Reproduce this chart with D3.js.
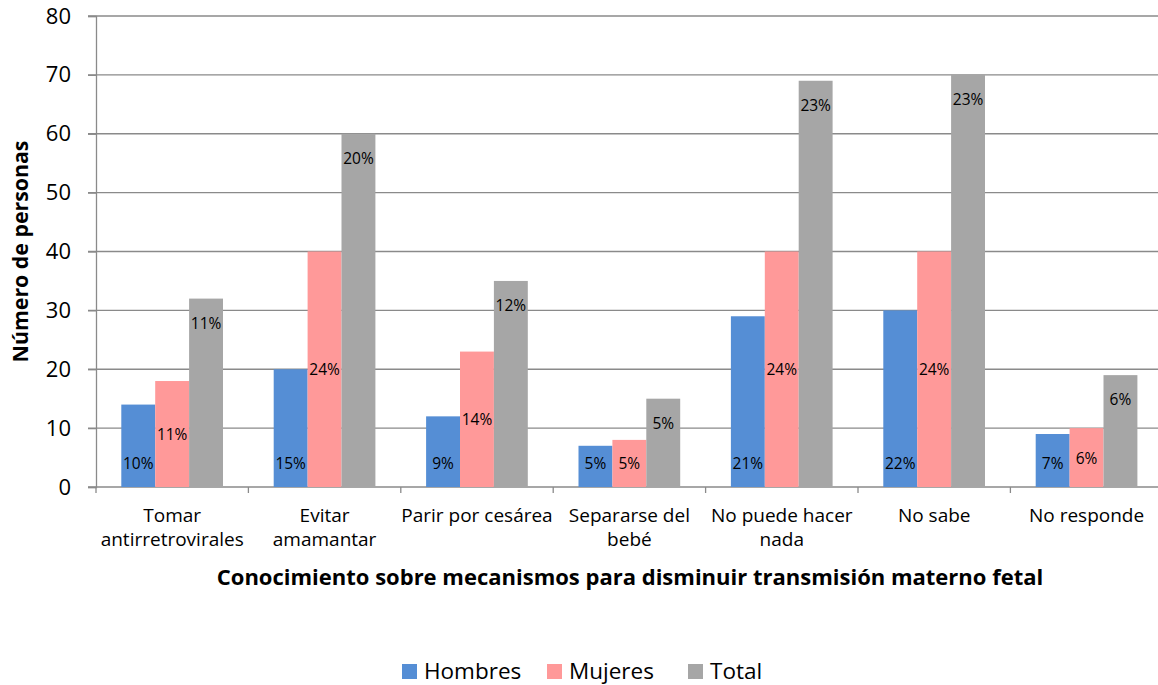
<!DOCTYPE html>
<html>
<head>
<meta charset="utf-8">
<script src="https://cdn.jsdelivr.net/npm/d3@7"></script>
<style>
  html, body { margin: 0; padding: 0; background: #fff; }
  svg { display: block; font-family: "Open Sans", sans-serif; }
</style>
</head>
<body>
<svg id="chart" width="1158" height="685"></svg>
<script>
const categories = [
  ["Tomar", "antirretrovirales"],
  ["Evitar", "amamantar"],
  ["Parir por cesárea"],
  ["Separarse del", "bebé"],
  ["No puede hacer", "nada"],
  ["No sabe"],
  ["No responde"]
];
const seriesNames = ["Hombres", "Mujeres", "Total"];
const hombres = [14, 20, 12, 7, 29, 30, 9];
const mujeres = [18, 40, 23, 8, 40, 40, 10];
const total   = [32, 60, 35, 15, 69, 70, 19];
const hombresPct = ["10%", "15%", "9%", "5%", "21%", "22%", "7%"];
const mujeresPct = ["11%", "24%", "14%", "5%", "24%", "24%", "6%"];
const totalPct   = ["11%", "20%", "12%", "5%", "23%", "23%", "6%"];
const yTicks = [0, 10, 20, 30, 40, 50, 60, 70, 80];
const colors = ["#558ED5", "#FF9999", "#A6A6A6"];

(function () {
const svg = d3.select("#chart");
const plotLeft = 96, catW = 152.4, plotTop = 16, plotBottom = 487;
const catKeys = categories.map((c, i) => i);

const x = d3.scaleBand().domain(catKeys).range([plotLeft, plotLeft + catW * categories.length]).padding(0);
const xs = d3.scaleBand().domain(seriesNames).range([25.3, 127]).padding(0);
const y = d3.scaleLinear().domain([0, 80]).range([plotBottom, plotTop]);

const gridColor = "#8a8a8a";

// gridlines
svg.append("g").selectAll("line").data(yTicks).join("line")
  .attr("x1", plotLeft - 8).attr("x2", 1158)
  .attr("y1", d => y(d)).attr("y2", d => y(d))
  .attr("stroke", gridColor).attr("stroke-width", 1.3);

// y axis
const yAxis = svg.append("g").attr("transform", `translate(${plotLeft},0)`)
  .call(d3.axisLeft(y).tickValues(yTicks).tickSize(8).tickPadding(17));
yAxis.select(".domain").attr("stroke", gridColor).attr("stroke-width", 1.3);
yAxis.selectAll(".tick line").attr("stroke", gridColor).attr("stroke-width", 1.3);
yAxis.selectAll(".tick text").attr("font-size", 22).attr("fill", "#000")
  .attr("font-family", "'Open Sans', sans-serif");

// x axis ticks at category boundaries
const tickPos = d3.range(categories.length + 1).map(i => plotLeft + i * catW);
svg.append("g").selectAll("line").data(tickPos).join("line")
  .attr("x1", d => d).attr("x2", d => d).attr("y1", plotBottom).attr("y2", plotBottom + 6)
  .attr("stroke", gridColor).attr("stroke-width", 1.3);

// bars
const series = [hombres, mujeres, total];
const pcts = [hombresPct, mujeresPct, totalPct];
const barData = [];
series.forEach((vals, s) => vals.forEach((v, i) => barData.push({s, i, v, label: pcts[s][i]})));

svg.append("g").selectAll("rect").data(barData).join("rect")
  .attr("x", d => x(d.i) + xs(seriesNames[d.s]))
  .attr("y", d => y(d.v))
  .attr("width", xs.bandwidth())
  .attr("height", d => y(0) - y(d.v))
  .attr("fill", d => colors[d.s]);

// data labels
svg.append("g").selectAll("text").data(barData).join("text")
  .attr("x", d => x(d.i) + xs(seriesNames[d.s]) + xs.bandwidth() / 2)
  .attr("y", d => d.s === 0 ? y(0) - 24 : d.s === 1 ? (y(0) + y(d.v)) / 2 : y(d.v) + 24)
  .attr("text-anchor", "middle")
  .attr("dominant-baseline", "central")
  .attr("font-size", 15.5)
  .attr("fill", "#000")
  .text(d => d.label);

// category labels
const catG = svg.append("g");
categories.forEach((lines, i) => {
  const t = catG.append("text")
    .attr("x", x(i) + catW / 2)
    .attr("y", 522)
    .attr("text-anchor", "middle")
    .attr("font-size", 19)
    .attr("fill", "#000");
  lines.forEach((ln, k) => {
    t.append("tspan").attr("x", x(i) + catW / 2).attr("dy", k === 0 ? 0 : 24).text(ln);
  });
});

// axis titles
svg.append("text")
  .attr("x", 630).attr("y", 585)
  .attr("text-anchor", "middle")
  .attr("font-size", 22).attr("font-weight", "bold").attr("fill", "#000")
  .text("Conocimiento sobre mecanismos para disminuir transmisión materno fetal");

svg.append("text")
  .attr("transform", `translate(28,${(plotTop + plotBottom) / 2}) rotate(-90)`)
  .attr("text-anchor", "middle")
  .attr("font-size", 21.3).attr("font-weight", "bold").attr("fill", "#000")
  .text("Número de personas");

// legend
const legendX = [402, 547, 688];
const lg = svg.append("g");
seriesNames.forEach((name, k) => {
  lg.append("rect").attr("x", legendX[k]).attr("y", 664).attr("width", 15).attr("height", 15)
    .attr("fill", colors[k]);
  lg.append("text").attr("x", legendX[k] + 22).attr("y", 679)
    .attr("font-size", 22.5).attr("fill", "#000").text(name);
});
})();
</script>
</body>
</html>
